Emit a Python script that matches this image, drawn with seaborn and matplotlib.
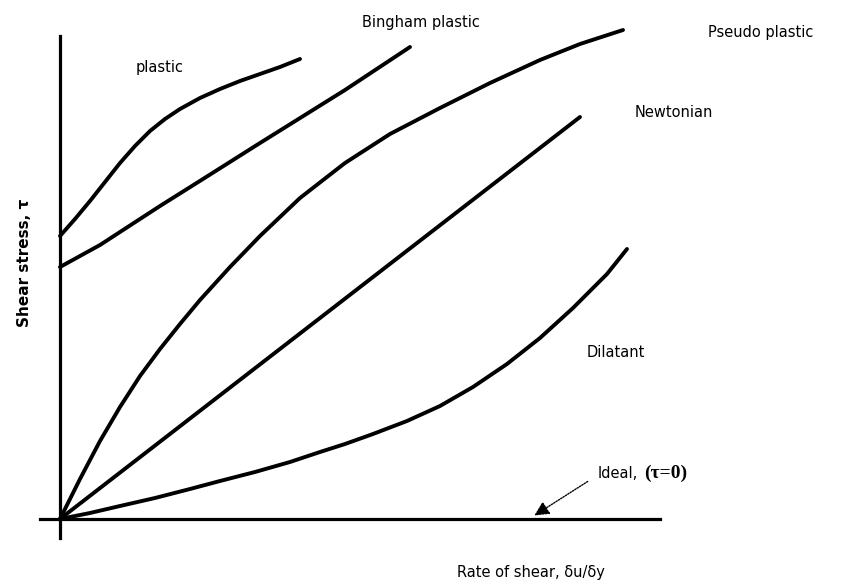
import pandas as pd
import numpy as np
import matplotlib.pyplot as plt
import seaborn as sns

# --- Style ---
sns.set_style("white")
plt.rcParams["font.family"] = ["DejaVu Sans"]
plt.rcParams["text.color"] = "black"

# --- Data (rate of shear vs shear stress, arbitrary units) ---
plastic_x = [0.0, 0.15, 0.30, 0.45, 0.60, 0.75, 0.90, 1.05, 1.20, 1.40, 1.60, 1.80, 2.00, 2.20, 2.40]
plastic_y = [2.83, 3.00, 3.18, 3.37, 3.56, 3.73, 3.88, 4.00, 4.10, 4.21, 4.30, 4.38, 4.45, 4.52, 4.60]

bingham_x = [0.0, 0.40, 1.00, 1.43, 2.00, 2.85, 3.50]
bingham_y = [2.52, 2.74, 3.13, 3.40, 3.76, 4.29, 4.72]

pseudo_x = [0.0, 0.2, 0.4, 0.6, 0.8, 1.0, 1.2, 1.4, 1.7, 2.0, 2.4, 2.85, 3.3, 3.8, 4.3, 4.8, 5.2, 5.63]
pseudo_y = [0.0, 0.40, 0.78, 1.12, 1.43, 1.70, 1.95, 2.19, 2.52, 2.83, 3.21, 3.56, 3.85, 4.11, 4.36, 4.59, 4.75, 4.89]

newton_x = [0.0, 5.20]
newton_y = [0.0, 4.02]

dilatant_x = [0.0, 0.3, 0.6, 0.95, 1.3, 1.6, 1.95, 2.3, 2.6, 2.85, 3.13, 3.47, 3.80, 4.13, 4.47, 4.80, 5.13, 5.47, 5.67]
dilatant_y = [0.0, 0.06, 0.13, 0.21, 0.30, 0.38, 0.47, 0.57, 0.67, 0.75, 0.85, 0.98, 1.13, 1.32, 1.55, 1.81, 2.11, 2.45, 2.70]

series_names = ["plastic", "Bingham plastic", "Pseudo plastic", "Newtonian", "Dilatant"]

# curve labels (text, x, y)
label_text = ["plastic", "Bingham plastic", "Pseudo plastic", "Newtonian", "Dilatant"]
label_x = [1.00, 3.61, 7.01, 6.14, 5.56]
label_y = [4.52, 4.97, 4.87, 4.07, 1.67]

# axis line extents
y_axis_span = (-0.19, 4.83)
x_axis_span = (-0.20, 6.00)

# ideal fluid arrow: tail -> tip
ideal_tail = (5.30, 0.39)
ideal_tip = (4.72, 0.02)

# --- Long-form table ---
parts = []
for name, xs, ys in zip(series_names,
                        [plastic_x, bingham_x, pseudo_x, newton_x, dilatant_x],
                        [plastic_y, bingham_y, pseudo_y, newton_y, dilatant_y]):
    parts.append(pd.DataFrame({"rate": xs, "stress": ys, "fluid": name}))
df = pd.concat(parts, ignore_index=True)

# --- Plot ---
fig = plt.figure(figsize=(8.57, 5.85), dpi=100)
ax = fig.add_axes([0, 0, 1, 1])

sns.lineplot(data=df, x="rate", y="stress", hue="fluid", units="fluid",
             estimator=None, sort=False, legend=False,
             palette={n: "black" for n in series_names},
             linewidth=2.8, ax=ax)
for ln in ax.lines:
    ln.set_solid_capstyle("round")
    ln.set_solid_joinstyle("round")

ax.set_xlim(-0.60, 7.97)
ax.set_ylim(-0.66, 5.19)

# axes drawn as spines crossing at the origin
for s in ["top", "right"]:
    ax.spines[s].set_visible(False)
ax.spines["left"].set_position(("data", 0))
ax.spines["bottom"].set_position(("data", 0))
ax.spines["left"].set_bounds(*y_axis_span)
ax.spines["bottom"].set_bounds(*x_axis_span)
for s in ["left", "bottom"]:
    ax.spines[s].set_linewidth(2.3)
    ax.spines[s].set_color("black")
ax.set_xticks([])
ax.set_yticks([])
ax.set_xlabel("")
ax.set_ylabel("")

for t, x, y in zip(label_text, label_x, label_y):
    ax.text(x, y, t, ha="center", va="center", fontsize=10.5, color="black")

# ideal fluid label + dotted arrow
t1 = ax.text(5.38, 0.41, "Ideal,", ha="left", va="baseline", fontsize=10.5, color="black")
ax.annotate("(τ=0)", xy=(1, 0), xycoords=t1, xytext=(4, -1),
            textcoords="offset points", ha="left", va="bottom",
            fontsize=14, fontweight="bold", family="Liberation Serif", color="black")
ax.annotate("", xy=ideal_tip, xytext=ideal_tail,
            arrowprops=dict(arrowstyle="-|>,head_length=0.8,head_width=0.4",
                            linestyle=(0, (1, 1)), lw=1,
                            color="black", mutation_scale=11))

# axis titles
ax.text(4.71, -0.54, "Rate of shear, δu/δy", ha="center", va="center",
        fontsize=10.5, color="black")
ax.text(-0.35, 2.56, "Shear stress, τ", ha="center", va="center",
        rotation=90, fontsize=11, fontweight="bold", color="black")

plt.savefig("out.png", dpi=100)
plt.close()
